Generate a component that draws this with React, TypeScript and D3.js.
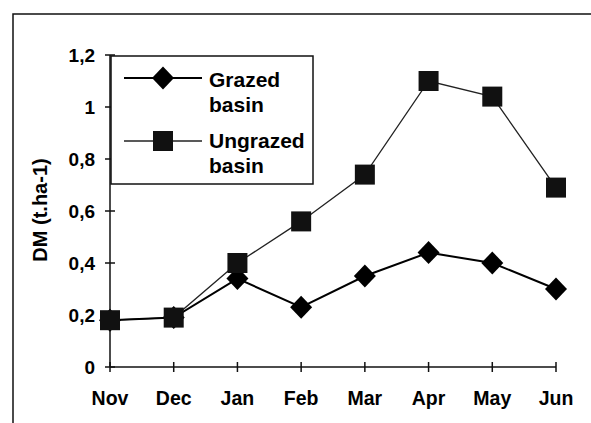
import React, { useEffect, useRef } from 'react';
import * as d3 from 'd3';

const months = ['Nov', 'Dec', 'Jan', 'Feb', 'Mar', 'Apr', 'May', 'Jun'];
const grazed = [0.18, 0.19, 0.34, 0.23, 0.35, 0.44, 0.40, 0.30];
const ungrazed = [0.18, 0.19, 0.40, 0.56, 0.74, 1.10, 1.04, 0.69];
const yTicks = [0, 0.2, 0.4, 0.6, 0.8, 1, 1.2];

const App = () => {
  const svgRef = useRef<SVGSVGElement>(null);

  useEffect(() => {
    const width = 591;
    const height = 423;
    const font = 'Liberation Sans, Arial, sans-serif';

    d3.select(svgRef.current).selectAll('*').remove();
    const svg = d3.select(svgRef.current)
      .attr('width', width)
      .attr('height', height)
      .style('background', '#fff')
      .style('display', 'block');

    // outer frame (top and left only, rest is cut off)
    svg.append('path')
      .attr('d', `M13,${height} L13,14 L${width},14`)
      .attr('fill', 'none')
      .attr('stroke', '#111')
      .attr('stroke-width', 1.5);

    const x = d3.scalePoint<string>().domain(months).range([110, 556]);
    const y = d3.scaleLinear().domain([0, 1.2]).range([367, 55]);

    // y axis
    svg.append('line')
      .attr('x1', x('Nov')!).attr('x2', x('Nov')!)
      .attr('y1', y(0)).attr('y2', y(1.2))
      .attr('stroke', '#111').attr('stroke-width', 1.5);
    svg.selectAll('.ytick')
      .data(yTicks)
      .join('line')
      .attr('x1', 105).attr('x2', 115)
      .attr('y1', d => y(d)).attr('y2', d => y(d))
      .attr('stroke', '#111').attr('stroke-width', 1.5);
    svg.selectAll('.ylab')
      .data(yTicks)
      .join('text')
      .attr('x', 95)
      .attr('y', d => y(d))
      .attr('dy', '0.36em')
      .attr('text-anchor', 'end')
      .style('font-family', font)
      .style('font-size', '19px')
      .style('font-weight', 'bold')
      .text(d => d3.format('~g')(d).replace('.', ','));

    // x axis
    svg.append('line')
      .attr('x1', x('Nov')!).attr('x2', x('Jun')!)
      .attr('y1', y(0)).attr('y2', y(0))
      .attr('stroke', '#111').attr('stroke-width', 1.5);
    svg.selectAll('.xtick')
      .data(months)
      .join('line')
      .attr('x1', d => x(d)!).attr('x2', d => x(d)!)
      .attr('y1', y(0) - 5).attr('y2', y(0) + 5)
      .attr('stroke', '#111').attr('stroke-width', 1.5);
    svg.selectAll('.xlab')
      .data(months)
      .join('text')
      .attr('x', d => x(d)!)
      .attr('y', 405)
      .attr('text-anchor', 'middle')
      .style('font-family', font)
      .style('font-size', '19.5px')
      .style('font-weight', 'bold')
      .text(d => d);

    // y axis title
    svg.append('text')
      .attr('transform', 'translate(47,210) rotate(-90)')
      .attr('text-anchor', 'middle')
      .style('font-family', font)
      .style('font-size', '20px')
      .style('font-weight', 'bold')
      .text('DM (t.ha-1)');

    const line = d3.line<number>()
      .x((_, i) => x(months[i])!)
      .y(d => y(d));

    // ungrazed (thin line, squares)
    svg.append('path')
      .datum(ungrazed)
      .attr('d', line)
      .attr('fill', 'none')
      .attr('stroke', '#222')
      .attr('stroke-width', 1.3);

    // grazed (thicker line, diamonds)
    svg.append('path')
      .datum(grazed)
      .attr('d', line)
      .attr('fill', 'none')
      .attr('stroke', '#000')
      .attr('stroke-width', 2);

    const diamond = (cx: number, cy: number) =>
      `M${cx},${cy - 11.5} L${cx + 11},${cy} L${cx},${cy + 11.5} L${cx - 11},${cy} Z`;

    svg.selectAll('.gpt')
      .data(grazed)
      .join('path')
      .attr('d', (d, i) => diamond(x(months[i])!, y(d)))
      .attr('fill', '#000');

    svg.selectAll('.upt')
      .data(ungrazed)
      .join('rect')
      .attr('x', (_, i) => x(months[i])! - 10)
      .attr('y', d => y(d) - 10)
      .attr('width', 20)
      .attr('height', 20)
      .attr('fill', '#111');

    // legend
    const lg = svg.append('g');
    lg.append('rect')
      .attr('x', 111).attr('y', 56)
      .attr('width', 202).attr('height', 128)
      .attr('fill', '#fff')
      .attr('stroke', '#111')
      .attr('stroke-width', 1.5);
    lg.append('line')
      .attr('x1', 124).attr('x2', 202).attr('y1', 78).attr('y2', 78)
      .attr('stroke', '#000').attr('stroke-width', 2);
    lg.append('path').attr('d', diamond(163, 78)).attr('fill', '#000');
    lg.append('line')
      .attr('x1', 124).attr('x2', 202).attr('y1', 141).attr('y2', 141)
      .attr('stroke', '#222').attr('stroke-width', 1.3);
    lg.append('rect')
      .attr('x', 153).attr('y', 131).attr('width', 20).attr('height', 20)
      .attr('fill', '#111');

    const legendText = [
      { t: 'Grazed', y: 87 },
      { t: 'basin', y: 112 },
      { t: 'Ungrazed', y: 148 },
      { t: 'basin', y: 173 },
    ];
    lg.selectAll('text')
      .data(legendText)
      .join('text')
      .attr('x', 209)
      .attr('y', d => d.y)
      .style('font-family', font)
      .style('font-size', '21px')
      .style('font-weight', 'bold')
      .text(d => d.t);
  }, []);

  return (
    <div style={{ position: 'absolute', left: 0, top: 0 }}>
      <svg ref={svgRef}></svg>
    </div>
  );
};

export default App;
